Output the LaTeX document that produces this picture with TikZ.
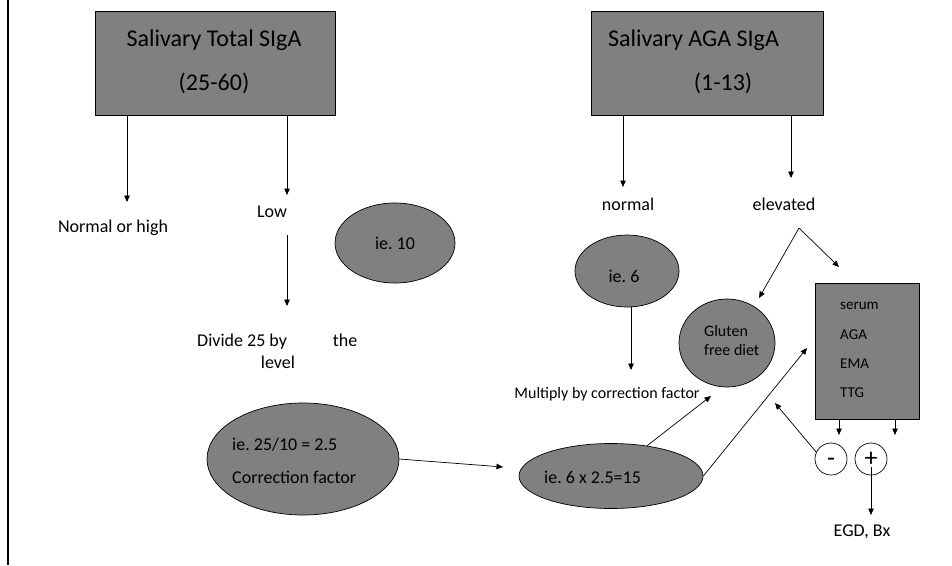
\documentclass[tikz,border=0pt]{standalone}
\usepackage{fontspec}
\setmainfont{Carlito}
\frenchspacing
\usetikzlibrary{arrows.meta,shapes.geometric}
\tikzset{
  graybox/.style={draw=black,fill=gray,line width=0.9pt},
  grayell/.style={ellipse,draw=black,fill=gray,line width=0.7pt,inner sep=0pt},
  conn/.style={line width=0.7pt,-{Triangle[length=6.5pt,width=5.5pt]}},
  lbl/.style={inner sep=0pt,font=\fontsize{18}{20}\selectfont},
  big/.style={inner sep=0pt,font=\fontsize{24}{26}\selectfont},
  sml/.style={inner sep=0pt,font=\fontsize{15}{17}\selectfont,anchor=west},
  circ/.style={circle,draw=black,fill=white,line width=0.7pt,minimum size=32pt,inner sep=0pt,font=\fontsize{26}{28}\selectfont}
}
\begin{document}
\begin{tikzpicture}[x=1pt,y=-1pt]
\frenchspacing
\useasboundingbox (0,0) rectangle (952,565);
\draw[line width=2.2pt] (8,0) -- (8,565);
% top boxes
\node[graybox,minimum width=240pt,minimum height=104pt,anchor=north west] (b1) at (95,11) {};
\node[big] (b1t) at (214,40) {Salivary Total SIgA};
\node[big] (b1r) at (214,83) {(25-60)};
\node[graybox,minimum width=232pt,minimum height=104pt,anchor=north west] (b2) at (591,11) {};
\node[big,anchor=west] (b2t) at (608,40) {Salivary AGA SIgA};
\node[big] (b2r) at (723,83) {(1-13)};
% labels
\node[lbl] (noh) at (113,228) {Normal or high};
\node[lbl] (low) at (272,212) {Low};
\node[lbl,anchor=base west] (div) at (197,346) {Divide 25 by\hspace{46pt}the};
\node[lbl,anchor=base] (lvl) at (278,368) {level};
\node[lbl] (nor) at (628,204) {normal};
\node[lbl] (ele) at (784,204) {elevated};
\node[inner sep=0pt,font=\fontsize{16}{18}\selectfont] (mul) at (607,394) {Multiply by correction factor};
\node[lbl] (egd) at (862,532) {EGD, Bx};
% ellipses
\node[grayell,minimum width=120pt,minimum height=80pt] (e10) at (395,243) {};
\node[lbl] at (e10) {ie. 10};
\node[grayell,minimum width=104pt,minimum height=72pt] (e6) at (627,271) {};
\node[lbl] at (624,276) {ie. 6};
\node[grayell,minimum width=192pt,minimum height=112pt] (ecf) at (303,459) {};
\node[lbl,anchor=west] at (232,445) {ie. 25/10 = 2.5};
\node[lbl,anchor=west] at (232,477) {Correction factor};
\node[grayell,minimum width=184pt,minimum height=65pt] (e15) at (611,476) {};
\node[lbl,anchor=west] at (544,477) {ie. 6 x 2.5=15};
\node[grayell,minimum width=96pt,minimum height=88pt] (gfd) at (727,343) {};
\node[inner sep=0pt,font=\fontsize{16}{19}\selectfont,align=left,anchor=west] at (704,340) {Gluten\\free diet};
% serum box
\node[graybox,minimum width=104pt,minimum height=136pt,anchor=north west,line width=0.8pt] (ser) at (815,283) {};
\node[sml] at (840,306) {serum};
\node[sml] at (840,335) {AGA};
\node[sml] at (840,364) {EMA};
\node[sml] at (840,393) {TTG};
% circles
\node[circ] (neg) at (831,459) {\vphantom{+}-};
\node[circ] (pos) at (871,459) {+};
% coordinates
\coordinate (a1) at (127,202);
\coordinate (a2) at (287,195);
\coordinate (l1) at (287,235);
\coordinate (a3) at (287,306);
\coordinate (a4) at (623,187);
\coordinate (a5) at (791,178);
\coordinate (v) at (799,228);
\coordinate (a6) at (759,298);
\coordinate (a7) at (839,267);
\coordinate (a8) at (631,370);
\coordinate (a9) at (503,467);
\coordinate (a10) at (711,396);
\coordinate (a11) at (807,348);
\coordinate (a12) at (775,403);
\coordinate (a13) at (839,435);
\coordinate (a14) at (895,435);
\coordinate (a15) at (871,515);
% connectors
\draw[conn] (b1.south -| a1) -- (a1);
\draw[conn] (b1.south -| a2) -- (a2);
\draw[conn] (l1) -- (a3);
\draw[conn] (b2.south -| a4) -- (a4);
\draw[conn] (b2.south -| a5) -- (a5);
\draw[conn] (v) -- (a6);
\draw[conn] (v) -- (a7);
\draw[conn] (e6.south -| a8) -- (a8);
\draw[conn] (ecf.east) -- (a9);
\draw[conn] (e15.40) -- (a10);
\draw[conn] (e15.east) -- (a11);
\draw[conn] (neg.155) -- (a12);
\draw[conn] (ser.south -| a13) -- (a13);
\draw[conn] (ser.south -| a14) -- (a14);
\draw[conn] ([yshift=8pt]pos.south) -- (a15);
\end{tikzpicture}
\end{document}
